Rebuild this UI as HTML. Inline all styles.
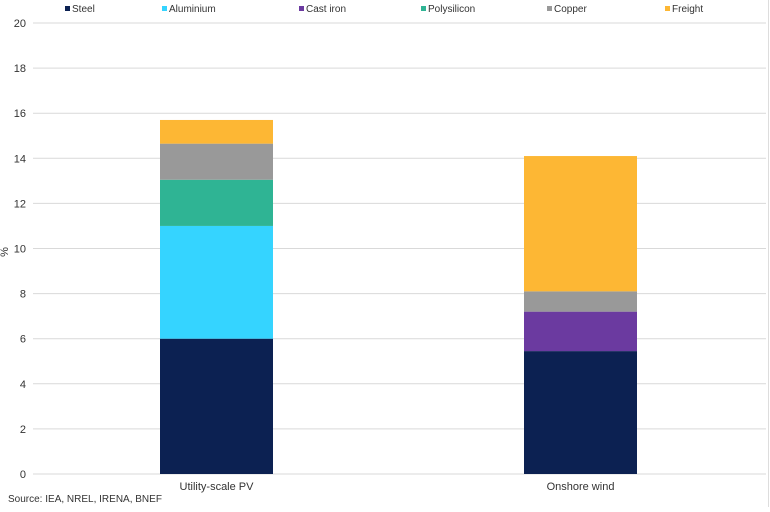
<!DOCTYPE html>
<html><head><meta charset="utf-8"><style>
body{margin:0;background:#fff;font-family:"Liberation Sans",Arial,sans-serif;}
svg text{font-family:"Liberation Sans",Arial,sans-serif;font-size:11px;fill:#333;}
</style></head><body>
<svg id="chart" width="770" height="507" viewBox="0 0 770 507">
<line x1="768.5" y1="0" x2="768.5" y2="507" stroke="#ddd"/>
<g id="grid"></g><g id="bars"></g><g id="legend"></g>
<text x="8" y="252" transform="rotate(-90 8 252)" text-anchor="middle">%</text>
<text x="8" y="502" style="font-size:10px">Source: IEA, NREL, IRENA, BNEF</text>
</svg>
<script>
const categories=["Utility-scale PV","Onshore wind"];
const seriesNames=["Steel","Aluminium","Cast iron","Polysilicon","Copper","Freight"];
const seriesColors=["#0c2152","#35d4ff","#6b3aa0","#2fb494","#999999","#fdb734"];
const steel=[6,5.45];
const aluminium=[5,0];
const castIron=[0,1.75];
const polysilicon=[2.05,0];
const copper=[1.6,0.9];
const freight=[1.05,6.0];
const yTicks=[0,2,4,6,8,10,12,14,16,18,20];
const series=[steel,aluminium,castIron,polysilicon,copper,freight];
const NS="http://www.w3.org/2000/svg";
const y0=474,y1=23,ymax=20,xL=33,xR=768;
const yS=v=>y0-(v/ymax)*(y0-y1);
const catX=[160,524],bw=113;
const grid=document.getElementById('grid');
function mk(t,a,p){const e=document.createElementNS(NS,t);for(const k in a)e.setAttribute(k,a[k]);p.appendChild(e);return e;}
yTicks.forEach(v=>{
 const l=mk('line',{x1:xL,x2:xR-2,y1:yS(v),y2:yS(v),stroke:'#d9d9d9'},grid);
 
 
 const t=mk('text',{x:26,y:yS(v)+4,'text-anchor':'end'},grid);t.textContent=v;
 
 
});
const bars=document.getElementById('bars');
categories.forEach((c,i)=>{
 let acc=0;
 series.forEach((s,j)=>{
  const v=s[i]; if(v<=0)return;
  const r=mk('rect',{x:catX[i],width:bw,y:yS(acc+v),height:yS(acc)-yS(acc+v),fill:seriesColors[j]},bars);
  
  
  acc+=v;
 });
 const t=mk('text',{x:catX[i]+bw/2,y:490,'text-anchor':'middle'},bars);t.textContent=c;
 
 
});
const lg=document.getElementById('legend');
const lx=[70,167,304,426,552,670];
seriesNames.forEach((n,j)=>{
 const g=mk('g',{},lg);
 
 
 mk('rect',{x:lx[j]-5,y:6,width:5,height:5,fill:seriesColors[j]},g);
 const t=mk('text',{x:lx[j]+2,y:12,style:'font-size:10px'},g);t.textContent=n;
});
</script>
</body></html>
